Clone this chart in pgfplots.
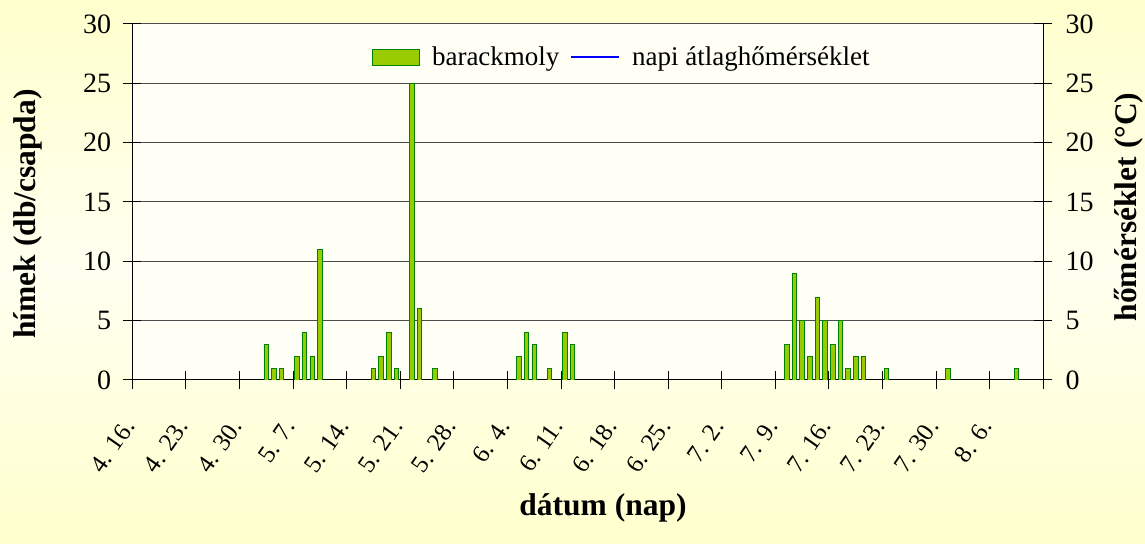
\documentclass[border=0pt]{standalone}
\usepackage{fontspec}
\setmainfont{Liberation Serif}
\usepackage{pgfplots}
\pgfplotsset{compat=1.18}
\definecolor{bargreen}{RGB}{153,204,0}
\definecolor{baredge}{RGB}{0,128,0}
\definecolor{bgyel}{RGB}{255,255,205}
\definecolor{bglight}{RGB}{255,255,240}
\definecolor{plotbg}{RGB}{255,255,246}
\newcommand\tickfont{\fontsize{28bp}{30bp}\selectfont}
\newcommand\xtickfont{\fontsize{25bp}{27bp}\selectfont}
\newcommand\legfont{\fontsize{27bp}{29bp}\selectfont}
\newcommand\titlefont{\fontsize{31.5bp}{33bp}\selectfont\bfseries}
\begin{document}
\begin{tikzpicture}
\useasboundingbox (0,0) rectangle (1145bp,544bp);
\shade[top color=bgyel, bottom color=bgyel, middle color=bglight] (0,0) rectangle (1145bp,544bp);
\begin{axis}[
  scale only axis, width=911bp, height=356bp,
  at={(132.3bp,164bp)}, anchor=south west,
  xmin=0, xmax=119, ymin=0, ymax=30,
  axis x line*=bottom, axis y line*=left,
  axis line style={line width=1bp, black},
  xtick={0,7,...,119},
  xticklabels={4. 16.,4. 23.,4. 30.,5. 7.,5. 14.,5. 21.,5. 28.,6. 4.,6. 11.,6. 18.,6. 25.,7. 2.,7. 9.,7. 16.,7. 23.,7. 30.,8. 6.,{}},
  ytick={0,5,...,30},
  tick align=center, major tick length=18bp,
  tick style={line width=1bp, black},
  ymajorgrids, grid style={line width=1bp, black!70},
  axis background/.style={fill=plotbg},
  /pgf/number format/assume math mode=true,
  xticklabel style={font=\xtickfont, inner sep=0pt, yshift=-33bp, xshift=-3bp, rotate=55, anchor=east},
  yticklabel style={font=\tickfont, inner sep=0pt, xshift=-12bp, anchor=east},
  xlabel={dátum (nap)},
  every axis x label/.style={at={(axis description cs:0.5167,-0.36)}, anchor=center, font=\titlefont},
  ylabel={hímek (db/csapda)},
  every axis y label/.style={at={(axis description cs:-0.1145,0.466)}, anchor=center, rotate=90, font=\titlefont},
  legend style={at={(axis description cs:0.5375,0.907)}, anchor=center, draw=none, fill=none, font=\legfont,
    legend columns=2,
    /tikz/every odd column/.append style={column sep=10bp},
    /tikz/every even column/.append style={column sep=9bp}},
  legend cell align=left,
]
\addplot[ybar, bar width=0.6, fill=bargreen, draw=baredge, line width=0.8bp,
  legend image code/.code={\draw[fill=bargreen, draw=baredge, line width=0.8bp] (0bp,-8bp) rectangle (47bp,8bp);}]
  coordinates {
  (17.5,3) (18.5,1) (19.5,1) (21.5,2) (22.5,4) (23.5,2) (24.5,11)
  (31.5,1) (32.5,2) (33.5,4) (34.5,1) (36.5,25) (37.5,6) (39.5,1)
  (50.5,2) (51.5,4) (52.5,3) (54.5,1) (56.5,4) (57.5,3)
  (85.5,3) (86.5,9) (87.5,5) (88.5,2) (89.5,7) (90.5,5) (91.5,3) (92.5,5) (93.5,1) (94.5,2) (95.5,2)
  (98.5,1) (106.5,1) (115.5,1)
  };
\addlegendentry{barackmoly}
\addlegendimage{color=blue, line width=1.6bp, legend image code/.code={\draw[color=blue, line width=1.6bp] (0bp,0bp) -- (48bp,0bp);}}
\addlegendentry{napi átlaghőmérséklet}
\end{axis}
\begin{axis}[
  scale only axis, width=911bp, height=356bp,
  at={(132.3bp,164bp)}, anchor=south west,
  xmin=0, xmax=119, ymin=0, ymax=30,
  axis x line=none, axis y line*=right,
  axis line style={line width=1bp, black},
  ytick={0,5,...,30},
  tick align=center, major tick length=18bp,
  tick style={line width=1bp, black},
  /pgf/number format/assume math mode=true,
  yticklabel style={font=\tickfont, inner sep=0pt, xshift=13bp, anchor=west},
  ylabel={hőmérséklet (°C)},
  every axis y label/.style={at={(axis description cs:1.094,0.486)}, anchor=center, rotate=90, font=\titlefont},
]
\addplot[draw=none] coordinates {(0,0)};
\end{axis}
\end{tikzpicture}
\end{document}
